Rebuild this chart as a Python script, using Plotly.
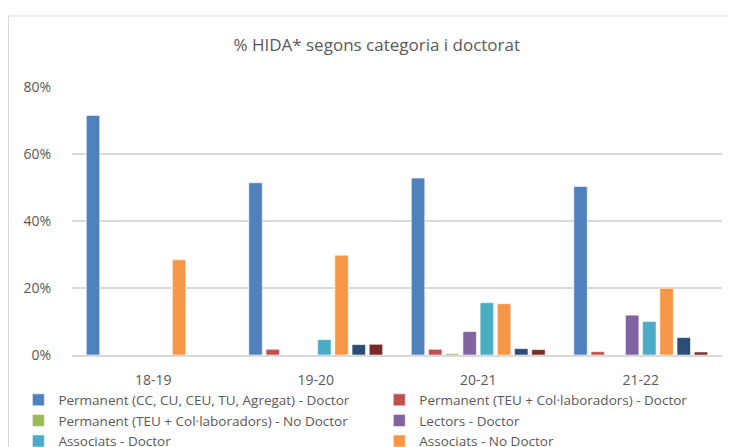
import plotly.graph_objects as go

years = ["18-19", "19-20", "20-21", "21-22"]

series_names = [
    "Permanent (CC, CU, CEU, TU, Agregat) - Doctor",
    "Permanent (TEU + Col·laboradors) - Doctor",
    "Permanent (TEU + Col·laboradors) - No Doctor",
    "Lectors - Doctor",
    "Associats - Doctor",
    "Associats - No Doctor",
    "Altres - Doctor",
    "Altres - No Doctor",
]

perm_doctor = [71.5, 51.4, 52.8, 50.3]
perm_teu_doctor = [None, 1.7, 1.7, 1.0]
perm_teu_no_doctor = [None, None, 0.4, None]
lectors_doctor = [None, None, 7.0, 11.9]
associats_doctor = [None, 4.6, 15.6, 10.0]
associats_no_doctor = [28.4, 29.8, 15.3, 19.9]
altres_doctor = [None, 3.1, 1.9, 5.2]
altres_no_doctor = [None, 3.2, 1.6, 0.9]

series_values = [
    perm_doctor, perm_teu_doctor, perm_teu_no_doctor, lectors_doctor,
    associats_doctor, associats_no_doctor, altres_doctor, altres_no_doctor,
]

y_ticks = [0, 20, 40, 60, 80]

colors = ["#4F81BD", "#C0504D", "#9BBB59", "#8064A2",
          "#4BACC6", "#F79646", "#2C4D75", "#772C2A"]

# legend laid out in two columns; the last row is cut off in the picture
legend_col = ["legend", "legend2", "legend", "legend2",
              "legend", "legend2", "legend", "legend2"]
in_legend = [True, True, True, True, True, True, False, False]

FONT = "'Open Sans', Lato, sans-serif"
GREY = "#595959"

fig = go.Figure()

for name, vals, col, lg, show in zip(series_names, series_values, colors, legend_col, in_legend):
    fig.add_trace(
        go.Bar(
            x=years,
            y=vals,
            name=name,
            marker=dict(color=col, line=dict(color="rgba(255,255,255,0.55)", width=1)),
            legend=lg,
            showlegend=show,
        )
    )

# horizontal legends with wide entries -> one entry per row
legend_style = dict(
    orientation="h",
    xref="container",
    yref="container",
    xanchor="left",
    y=0.1575,
    yanchor="top",
    entrywidth=300,
    font=dict(family=FONT, size=13.5, color=GREY),
    itemwidth=30,
    traceorder="normal",
    bgcolor="rgba(0,0,0,0)",
)

# page body adds an 8px offset, margins are set with that in mind
fig.update_layout(
    width=736,
    height=447,
    margin=dict(l=64, r=22, t=79, b=100),
    paper_bgcolor="white",
    plot_bgcolor="white",
    barmode="group",
    bargap=0.153,
    bargroupgap=0.22,
    font=dict(family=FONT, color=GREY, size=13),
    title=dict(
        text="% HIDA* segons categoria i doctorat",
        x=0.501,
        xanchor="center",
        y=0.917,
        yanchor="middle",
        font=dict(family=FONT, size=17, color=GREY),
    ),
    legend=dict(legend_style, x=0.0141),
    legend2=dict(legend_style, x=0.5045),
    shapes=[
        dict(
            type="rect", xref="paper", yref="paper",
            x0=-0.0977, x1=1.05, y0=-0.6, y1=1.265,
            line=dict(color="#D9D9D9", width=1),
            layer="below",
        )
    ],
)

fig.update_yaxes(
    range=[0, 80],
    tickvals=y_ticks,
    ticktext=[f"{v}%" for v in y_ticks],
    showgrid=True,
    gridcolor="#D9D9D9",
    gridwidth=1.5,
    zeroline=False,
    ticks="",
    ticklabelstandoff=20,
    automargin=False,
    tickfont=dict(family=FONT, size=14, color=GREY),
)
fig.update_xaxes(
    showline=True,
    linecolor="#D9D9D9",
    linewidth=1.5,
    ticks="",
    ticklabelstandoff=11,
    automargin=False,
    tickfont=dict(family=FONT, size=14, color=GREY),
)

fig.write_html("out.html")
